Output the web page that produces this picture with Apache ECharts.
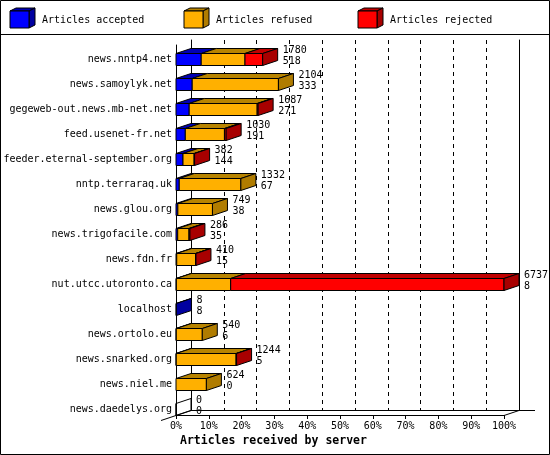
<!DOCTYPE html>
<html>
<head>
<meta charset="utf-8">
<script src="https://cdn.jsdelivr.net/npm/echarts@6/dist/echarts.min.js"></script>
<style>
  html, body { margin: 0; padding: 0; background: #fff; }
  #chart { width: 550px; height: 455px; }
</style>
</head>
<body>
<div id="chart"></div>
<script>
// servers, top to bottom
const categories = [
  'news.nntp4.net', 'news.samoylyk.net', 'gegeweb-out.news.mb-net.net', 'feed.usenet-fr.net',
  'feeder.eternal-september.org', 'nntp.terraraq.uk', 'news.glou.org', 'news.trigofacile.com',
  'news.fdn.fr', 'nut.utcc.utoronto.ca', 'localhost', 'news.ortolo.eu', 'news.snarked.org',
  'news.niel.me', 'news.daedelys.org'
]
const received = [1780, 2104, 1687, 1030, 382, 1332, 749, 286, 410, 6737, 8, 540, 1244, 624, 0]
const accepted = [518, 333, 271, 191, 144, 67, 38, 35, 15, 8, 8, 6, 5, 0, 0]
const refused = [899, 1771, 1396, 804, 228, 1265, 711, 232, 387, 1115, 0, 534, 1229, 624, 0]
const rejected = [363, 0, 20, 35, 10, 0, 0, 19, 8, 5614, 0, 0, 10, 0, 0]
const percentTicks = [0, 10, 20, 30, 40, 50, 60, 70, 80, 90, 100]
const legendNames = ['Articles accepted', 'Articles refused', 'Articles rejected']

const FONT = '"DejaVu Sans Mono", "Liberation Mono", monospace'
const DX = 15, DY = 5, H = 12
// front / top / side shades per segment
const shades = [
  { front: '#0000ff', top: '#0000b4', side: '#0000a0' },
  { front: '#ffb000', top: '#b88400', side: '#b07c00' },
  { front: '#ff0000', top: '#c00000', side: '#a80000' }
]
const maxReceived = Math.max(...received)
const toPct = v => v / maxReceived * 100

const barData = categories.map((c, i) => [i, accepted[i], refused[i], rejected[i], received[i]])

// one 3D bar per server, segments stacked left to right
const renderBar = (params, api) => {
  const cat = api.value(0)
  const segs = [api.value(1), api.value(2), api.value(3)]
  const total = api.value(4)
  const origin = api.coord([0, cat])
  const top = origin[1] - H / 2
  const bottom = origin[1] + H / 2
  const children = []
  let acc = 0
  let x0 = origin[0]
  let last = -1
  const tops = []
  segs.forEach((v, k) => {
    if (v <= 0) return
    acc += v
    const x1 = api.coord([toPct(acc), cat])[0]
    children.push({
      type: 'rect',
      shape: { x: x0, y: top, width: x1 - x0, height: H },
      style: { fill: shades[k].front, stroke: '#000', lineWidth: 1 }
    })
    tops.push({
      type: 'polygon',
      shape: { points: [[x0, top], [x1, top], [x1 + DX, top - DY], [x0 + DX, top - DY]] },
      style: { fill: shades[k].top, stroke: '#000', lineWidth: 1 }
    })
    x0 = x1
    last = k
  })
  children.push(...tops)
  children.push({
    type: 'polygon',
    shape: { points: [[x0, top], [x0 + DX, top - DY], [x0 + DX, bottom - DY], [x0, bottom]] },
    style: { fill: last >= 0 ? shades[last].side : 'none', stroke: '#000', lineWidth: 1 }
  })
  if (total === 0) {
    children.push({
      type: 'line',
      shape: { x1: x0, y1: top, x2: x0, y2: bottom },
      style: { stroke: '#000', lineWidth: 1 }
    })
  }
  children.push({
    type: 'text',
    style: {
      text: total + '\n' + api.value(1),
      x: x0 + DX + 5,
      y: origin[1] - 4,
      verticalAlign: 'middle',
      font: '10px ' + FONT,
      lineHeight: 11,
      fill: '#000'
    }
  })
  return { type: 'group', children }
}

// legend cubes
const legendGraphics = []
legendNames.forEach((name, k) => {
  const x = 10 + k * 174
  legendGraphics.push({
    type: 'group',
    children: [
      { type: 'polygon', shape: { points: [[x, 11], [x + 19, 11], [x + 25, 8], [x + 6, 8]] },
        style: { fill: shades[k].top, stroke: '#000', lineWidth: 1 } },
      { type: 'polygon', shape: { points: [[x + 19, 11], [x + 25, 8], [x + 25, 25], [x + 19, 28]] },
        style: { fill: shades[k].side, stroke: '#000', lineWidth: 1 } },
      { type: 'rect', shape: { x: x, y: 11, width: 19, height: 17 },
        style: { fill: shades[k].front, stroke: '#000', lineWidth: 1 } },
      { type: 'text', x: x + 32, y: 20,
        style: { text: name, font: '10px ' + FONT, fill: '#000', verticalAlign: 'middle' } }
    ]
  })
})

const chart = echarts.init(document.getElementById('chart'), null, { renderer: 'canvas' })
chart.setOption({
  animation: false,
  backgroundColor: '#fff',
  grid: [
    { left: 176, right: 46, top: 47, bottom: 33 },   // bars
    { left: 176, right: 46, top: 45, bottom: 40 },   // front frame
    { left: 191, right: 31, top: 40, bottom: 45 }    // back wall
  ],
  xAxis: [
    { gridIndex: 0, type: 'value', min: 0, max: 100, show: false },
    {
      gridIndex: 1, type: 'value', min: 0, max: 100, interval: 10,
      axisLine: { show: true, lineStyle: { color: '#000', width: 1 } },
      axisTick: { show: true, length: 4, lineStyle: { color: '#000' } },
      axisLabel: {
        formatter: v => percentTicks.includes(v) ? v + '%' : '',
        color: '#000', fontFamily: FONT, fontSize: 10, margin: 6,
        showMinLabel: true, showMaxLabel: true
      },
      splitLine: { show: false }
    },
    {
      gridIndex: 2, type: 'value', min: 0, max: 100, interval: 10,
      axisLine: { show: true, lineStyle: { color: '#000', width: 1 } },
      axisTick: { show: false },
      axisLabel: { show: false },
      splitLine: { show: true, lineStyle: { color: '#000', type: [4, 4], width: 1 } }
    }
  ],
  yAxis: [
    {
      gridIndex: 0, type: 'category', data: categories, inverse: true,
      axisLine: { show: false }, axisTick: { show: false },
      axisLabel: { color: '#000', fontFamily: FONT, fontSize: 10, margin: 4, interval: 0 }
    },
    {
      gridIndex: 1, type: 'value', min: 0, max: 1,
      axisLine: { show: true, lineStyle: { color: '#000' } },
      axisTick: { show: false }, axisLabel: { show: false }, splitLine: { show: false }
    },
    {
      gridIndex: 2, type: 'value', min: 0, max: 1, position: 'left',
      axisLine: { show: true, lineStyle: { color: '#000' } },
      axisTick: { show: false }, axisLabel: { show: false }, splitLine: { show: false }
    },
    {
      gridIndex: 2, type: 'value', min: 0, max: 1, position: 'right',
      axisLine: { show: true, lineStyle: { color: '#000' } },
      axisTick: { show: false }, axisLabel: { show: false }, splitLine: { show: false }
    }
  ],
  series: [
    {
      type: 'custom',
      name: 'Articles',
      xAxisIndex: 0,
      yAxisIndex: 0,
      renderItem: renderBar,
      data: barData,
      z: 5
    }
  ],
  graphic: [
    { type: 'rect', shape: { x: 0.5, y: 0.5, width: 549, height: 454 },
      style: { fill: 'none', stroke: '#000', lineWidth: 1 }, z: 10 },
    { type: 'line', shape: { x1: 0, y1: 34.5, x2: 550, y2: 34.5 },
      style: { stroke: '#000', lineWidth: 1 }, z: 10 },
    // floor edges
    { type: 'polyline', shape: { points: [[161, 420.5], [191, 410.5]] },
      style: { stroke: '#000', lineWidth: 1 } },
    { type: 'polyline', shape: { points: [[504, 415.5], [519, 410.5], [535, 410.5]] },
      style: { stroke: '#000', lineWidth: 1 } },
    { type: 'text', left: 180, top: 435,
      style: { text: 'Articles received by server', font: 'bold 11.5px ' + FONT, fill: '#000' } },
    ...legendGraphics
  ]
})
</script>
</body>
</html>
